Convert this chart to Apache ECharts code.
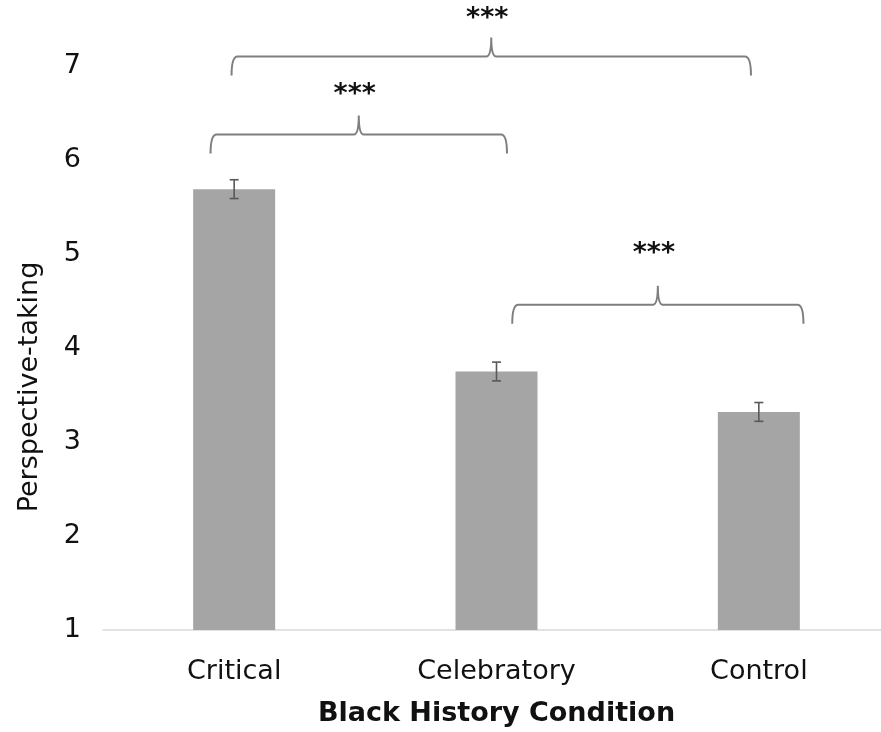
<!DOCTYPE html>
<html>
<head>
<meta charset="utf-8">
<script src="https://cdn.jsdelivr.net/npm/echarts@6/dist/echarts.min.js"></script>
<style>
  html, body { margin: 0; padding: 0; background: #fff; overflow: hidden; width: 881px; height: 732px; }
  #chart { width: 890px; height: 732px; }
</style>
</head>
<body>
<div id="chart"></div>
<script>
// ---- data ----
const categories = ['Critical', 'Celebratory', 'Control'];
const means = [5.69, 3.75, 3.32];
const errors = [0.10, 0.10, 0.10];
const yTicks = [1, 2, 3, 4, 5, 6, 7];
const xAxisTitle = 'Black History Condition';
const yAxisTitle = 'Perspective-taking';

// significance brackets (category-index units, y in data units)
const bracketFrom = [-0.09, -0.01, 1.06];
const bracketTo = [1.04, 1.97, 2.17];
const bracketLevel = [6.27, 7.10, 4.46];
const bracketLabelLevel = [6.71, 7.52, 5.02];
const bracketLabels = ['***', '***', '***'];

// ---- chart ----
const FONT = '"DejaVu Sans", sans-serif';
const chart = echarts.init(document.getElementById('chart'), null, { renderer: 'canvas', width: 890, height: 732 });

const errData = means.map((m, i) => [i, m, errors[i]]);
const bracketData = bracketFrom.map((f, i) => [f, bracketTo[i], bracketLevel[i], bracketLabelLevel[i], i]);

const option = {
  animation: false,
  backgroundColor: '#ffffff',
  grid: { left: 103, right: 0, top: 66, bottom: 99, containLabel: false },
  xAxis: [
    {
      type: 'category',
      data: categories,
      axisLine: { show: true, lineStyle: { color: '#d9d9d9', width: 1.5 } },
      axisTick: { show: false },
      axisLabel: { color: '#111', fontFamily: FONT, fontSize: 27, margin: 28 },
      name: xAxisTitle,
      nameLocation: 'middle',
      nameGap: 70,
      nameTextStyle: { color: '#111', fontFamily: FONT, fontSize: 27, fontWeight: 'bold' }
    },
    {
      type: 'value', min: -0.5, max: 2.5, show: false
    }
  ],
  yAxis: {
    type: 'value',
    min: yTicks[0],
    max: yTicks[yTicks.length - 1],
    interval: 1,
    axisLine: { show: false },
    axisTick: { show: false },
    splitLine: { show: false },
    axisLabel: { color: '#111', fontFamily: FONT, fontSize: 27, margin: 22, padding: [5, 0, 0, 0] }
  },
  graphic: [
    {
      type: 'text',
      x: 30,
      y: 387,
      rotation: Math.PI / 2,
      style: {
        text: yAxisTitle,
        fill: '#111',
        font: '27px ' + FONT,
        textAlign: 'center',
        textVerticalAlign: 'middle'
      }
    }
  ],
  series: [
    {
      type: 'bar',
      data: means,
      barWidth: 82,
      itemStyle: { color: '#a5a5a5' },
      silent: true
    },
    {
      type: 'custom',
      xAxisIndex: 0,
      data: errData,
      silent: true,
      renderItem: function (params, api) {
        const i = api.value(0), m = api.value(1), e = api.value(2);
        const top = api.coord([i, m + e]);
        const bot = api.coord([i, m - e]);
        const cap = 7;
        const st = { stroke: '#595959', lineWidth: 1.6 };
        return {
          type: 'group',
          children: [
            { type: 'line', shape: { x1: top[0], y1: top[1], x2: bot[0], y2: bot[1] }, style: st },
            { type: 'line', shape: { x1: top[0] - cap / 2 - 1, y1: top[1], x2: top[0] + cap / 2 + 1, y2: top[1] }, style: st },
            { type: 'line', shape: { x1: bot[0] - cap / 2 - 1, y1: bot[1], x2: bot[0] + cap / 2 + 1, y2: bot[1] }, style: st }
          ]
        };
      },
      z: 5
    },
    {
      type: 'custom',
      xAxisIndex: 1,
      data: bracketData,
      silent: true,
      clip: false,
      renderItem: function (params, api) {
        const f = api.value(0), t = api.value(1), lv = api.value(2), ll = api.value(3);
        const idx = api.value(4);
        const mid = (f + t) / 2;
        const L = api.coord([f, lv]);
        const R = api.coord([t, lv]);
        const M = api.coord([mid, lv]);
        const S = api.coord([mid, ll]);
        const drop = 19, rise = 19, r = 6, r2 = 5;
        const hy = L[1];
        const path =
          'M' + L[0] + ',' + (hy + drop) +
          ' Q' + L[0] + ',' + hy + ' ' + (L[0] + r) + ',' + hy +
          ' L' + (M[0] - r2) + ',' + hy +
          ' Q' + M[0] + ',' + hy + ' ' + M[0] + ',' + (hy - rise) +
          ' Q' + M[0] + ',' + hy + ' ' + (M[0] + r2) + ',' + hy +
          ' L' + (R[0] - r) + ',' + hy +
          ' Q' + R[0] + ',' + hy + ' ' + R[0] + ',' + (hy + drop);
        return {
          type: 'group',
          children: [
            {
              type: 'path',
              shape: { pathData: path },
              style: { stroke: '#7f7f7f', lineWidth: 2, fill: 'none' }
            },
            {
              type: 'text',
              x: S[0] - 4,
              y: S[1] + 2,
              style: {
                text: bracketLabels[idx],
                fill: '#111',
                font: 'bold 27px ' + FONT,
                textAlign: 'center',
                textVerticalAlign: 'middle'
              }
            }
          ]
        };
      },
      z: 6
    }
  ]
};

chart.setOption(option);
</script>
</body>
</html>
